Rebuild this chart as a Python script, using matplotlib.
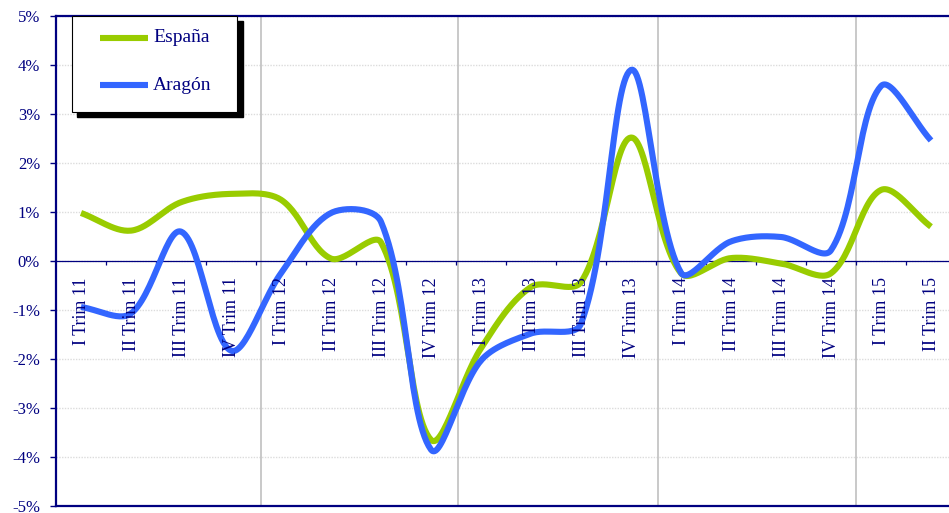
import numpy as np
import matplotlib.pyplot as plt
from matplotlib.patches import Rectangle
from matplotlib.lines import Line2D

# quarterly growth (%)
quarters = ["I Trim 11", "II Trim 11", "III Trim 11", "IV Trim 11",
            "I Trim 12", "II Trim 12", "III Trim 12", "IV Trim 12",
            "I Trim 13", "II Trim 13", "III Trim 13", "IV Trim 13",
            "I Trim 14", "II Trim 14", "III Trim 14", "IV Trim 14",
            "I Trim 15", "II Trim 15"]
espana = [0.98, 0.62, 1.2, 1.37, 1.25, 0.05, 0.38, -3.65, -1.78, -0.53,
          -0.43, 2.52, -0.25, 0.06, -0.05, -0.25, 1.45, 0.7]
aragon = [-0.94, -1.07, 0.6, -1.83, -0.25, 0.98, 0.8, -3.85, -2.03, -1.48,
          -1.28, 3.9, -0.24, 0.4, 0.49, 0.22, 3.57, 2.46]
series_names = ["España", "Aragón"]
y_ticks = [-5, -4, -3, -2, -1, 0, 1, 2, 3, 4, 5]

GREEN = "#99CC00"
BLUE = "#3366FF"
NAVY = "#000080"
FONT = "Liberation Serif"

W, H = 949, 513
PX_X, PX_Y = 50.0, 49.0   # pixels per category / per percent point


def smooth(x, y, n=30):
    """Excel-like smoothed line: Bezier segments, control arms scaled by
    neighbouring segment lengths (computed in screen space)."""
    p = np.column_stack([np.asarray(x) * PX_X, np.asarray(y) * PX_Y]).astype(float)
    m = len(p)
    fwd = np.zeros_like(p)
    bwd = np.zeros_like(p)
    for i in range(m):
        prev = p[i - 1] if i > 0 else p[i]
        nxt = p[i + 1] if i < m - 1 else p[i]
        tang = nxt - prev
        d0 = np.hypot(*(p[i] - prev))
        d1 = np.hypot(*(nxt - p[i]))
        tot = d0 + d1 if d0 + d1 > 0 else 1.0
        fwd[i] = p[i] + tang * d1 / tot / 3
        bwd[i] = p[i] - tang * d0 / tot / 3
    t = np.linspace(0, 1, n)[:, None]
    out = []
    for i in range(m - 1):
        p0, c1, c2, p1 = p[i], fwd[i], bwd[i + 1], p[i + 1]
        seg = ((1 - t) ** 3) * p0 + 3 * ((1 - t) ** 2) * t * c1 \
            + 3 * (1 - t) * t ** 2 * c2 + t ** 3 * p1
        out.append(seg if i == 0 else seg[1:])
    out = np.vstack(out)
    return out[:, 0] / PX_X, out[:, 1] / PX_Y


def fpx(x, y):
    # pixel coords (top-left origin) -> figure fraction
    return x / W, 1 - y / H


fig = plt.figure(figsize=(W / 100, H / 100), dpi=100)
ax = fig.add_axes([56 / W, (H - 506) / H, (W - 56) / W, 490 / H])

x = np.arange(len(quarters))
for vals, color in [(espana, GREEN), (aragon, BLUE)]:
    sx, sy = smooth(x, vals)
    ax.plot(sx, sy, color=color, lw=4.4, solid_capstyle="butt", zorder=3)

ax.set_xlim(-0.5, -0.5 + (W - 56) / 50)
ax.set_ylim(-5, 5)

# gridlines and year separators
ax.set_yticks(y_ticks)
ax.yaxis.grid(True, color="#dcdcdc", lw=1, ls=(0, (1, 1)))
ax.set_axisbelow(True)
for xv in [3.6, 7.54, 11.54, 15.5]:
    ax.axvline(xv, color="#c0c0c0", lw=1.2, zorder=1)

# category axis at zero
ax.axhline(0, color=NAVY, lw=0.9, zorder=2)
ax.vlines(np.arange(len(quarters)) + 0.5, -0.09, 0, color=NAVY, lw=0.9, zorder=2)
for i, q in enumerate(quarters):
    ax.text(i, -0.33, q, rotation=90, ha="center", va="top",
            fontsize=13, color=NAVY, family=FONT, zorder=4)

ax.set_xticks([])
ax.set_yticklabels([f"{v}%" for v in y_ticks], family=FONT, fontsize=12, color=NAVY)
ax.tick_params(axis="y", direction="out", length=4.5, width=1, color=NAVY, pad=7)
for side in ["left", "top", "bottom"]:
    ax.spines[side].set_color(NAVY)
    ax.spines[side].set_linewidth(1.6)
ax.spines["right"].set_visible(False)

# legend box with black shadow
x0, y0 = fpx(77, 117)
fig.add_artist(Rectangle((x0, y0), 166 / W, 96 / H, transform=fig.transFigure,
                         facecolor="black", edgecolor="black", zorder=5))
x0, y0 = fpx(72, 112)
fig.add_artist(Rectangle((x0, y0), 165 / W, 96 / H, transform=fig.transFigure,
                         facecolor="white", edgecolor="black", lw=0.8, zorder=6))
for name, color, ypix in zip(series_names, [GREEN, BLUE], [38, 85]):
    xa, ya = fpx(100, ypix)
    xb, _ = fpx(148, ypix)
    fig.add_artist(Line2D([xa, xb], [ya, ya], transform=fig.transFigure,
                          color=color, lw=4.4, solid_capstyle="butt", zorder=7))
    xt, _ = fpx(153, ypix)
    fig.text(xt, ya, name, ha="left", va="center", fontsize=14,
             color=NAVY, family=FONT, zorder=7)

fig.savefig("out.png", dpi=100)
